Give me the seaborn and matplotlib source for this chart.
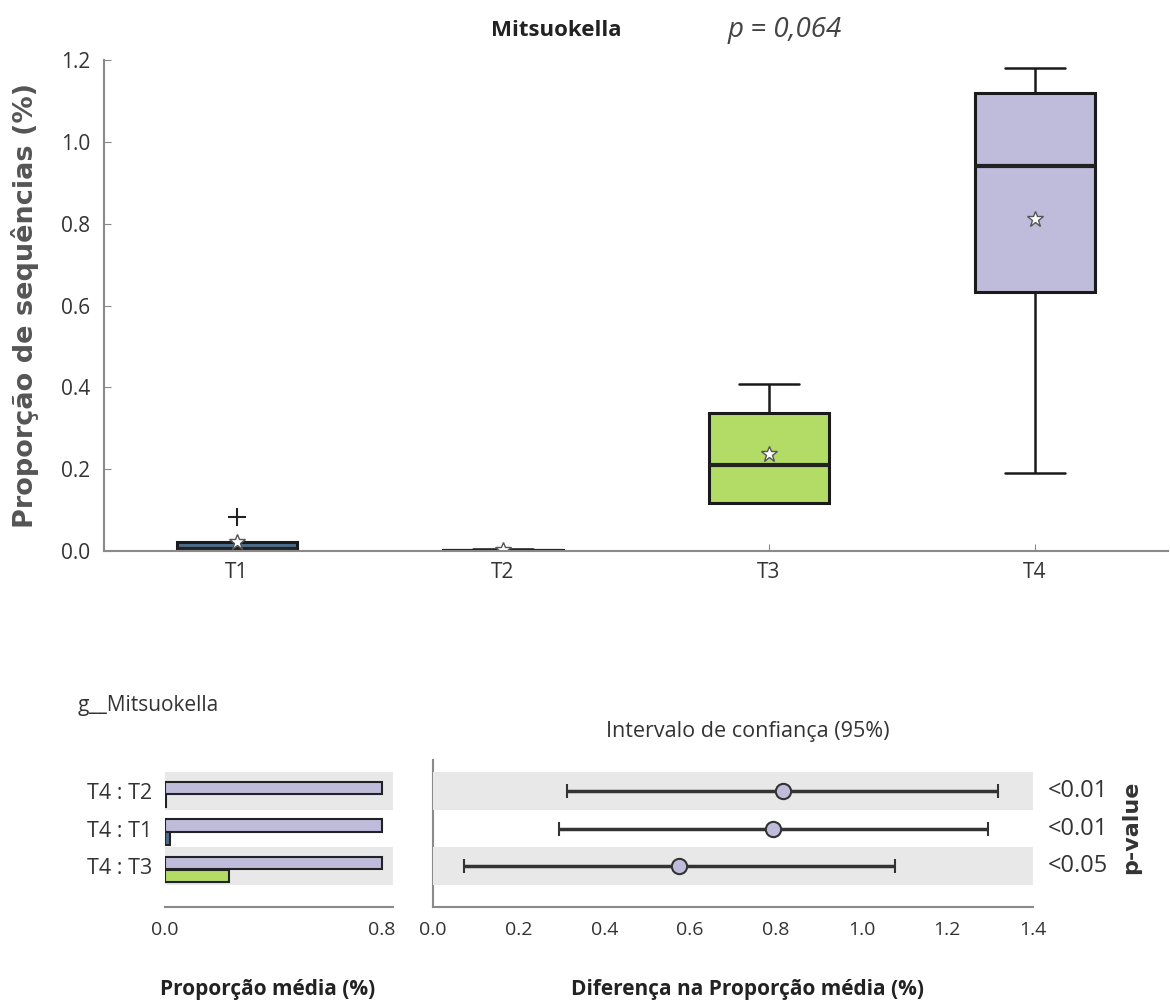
import numpy as np
import pandas as pd
import seaborn as sns
import matplotlib.pyplot as plt
import matplotlib.transforms as mtransforms

# dados (proporção de sequências, %)
grupos = ['T1', 'T2', 'T3', 'T4']
valores_t1 = [0.0, 0.0, 0.004, 0.022, 0.083]
valores_t2 = [0.0, 0.0, 0.0, 0.003, 0.006]
valores_t3 = [0.117, 0.117, 0.21, 0.337, 0.408]
valores_t4 = [0.19, 0.633, 0.94, 1.12, 1.18]
cores = ['#4d6d8c', '#e8a04f', '#b3dc66', '#bebbdb']

# comparações par a par (painel inferior)
comparacoes = ['T4 : T2', 'T4 : T1', 'T4 : T3']
outro_grupo = ['T2', 'T1', 'T3']
media_t4 = [0.80, 0.80, 0.80]
media_outro = [0.002, 0.02, 0.235]
dif_media = [0.817, 0.793, 0.575]
ic_inf = [0.313, 0.295, 0.073]
ic_sup = [1.318, 1.294, 1.077]
p_valores = ['<0.01', '<0.01', '<0.05']

df = pd.DataFrame({
    'grupo': np.repeat(grupos, 5),
    'valor': valores_t1 + valores_t2 + valores_t3 + valores_t4,
})

sns.set_style('white')
plt.rcParams['font.family'] = ['Open Sans', 'DejaVu Sans']

W, H = 1170, 1007
fig = plt.figure(figsize=(W / 100, H / 100), dpi=100)


def fx(px):
    return px / W


def fy(py):
    return 1 - py / H


cinza = '#8a8a8a'
texto = '#333333'

# ---- boxplot superior
ax = fig.add_axes([fx(104), fy(551), fx(1168 - 104), (551 - 60) / H])
sns.boxplot(data=df, x='grupo', y='valor', hue='grupo', palette=cores, legend=False,
            saturation=1, width=0.45, linewidth=2.2, linecolor='#1a1a1a', showmeans=True,
            meanprops=dict(marker='*', markerfacecolor='white', markeredgecolor='#555555',
                           markersize=12, markeredgewidth=1),
            flierprops=dict(marker='+', markersize=13, markeredgecolor='#222222',
                            markeredgewidth=1.5),
            medianprops=dict(linewidth=3, color='#222222'),
            whiskerprops=dict(linewidth=1.8), capprops=dict(linewidth=1.8),
            ax=ax)
ax.set_xlim(-0.5, 3.5)
ax.set_ylim(0, 1.2)
ax.set_yticks(np.arange(0, 1.21, 0.2))
ax.set_yticklabels([f'{v:.1f}' for v in np.arange(0, 1.21, 0.2)])
ax.set_xlabel('')
ax.set_ylabel('Proporção de sequências (%)', fontsize=19.5, fontweight='bold',
              color='#555555', family='DejaVu Sans', labelpad=16)
for s in ['top', 'right']:
    ax.spines[s].set_visible(False)
for s in ['left', 'bottom']:
    ax.spines[s].set_color(cinza)
    ax.spines[s].set_linewidth(1.5)
ax.tick_params(direction='in', length=5, color=cinza, labelsize=15, labelcolor=texto,
               left=True, bottom=True)
ax.tick_params(axis='y', pad=10)
ax.tick_params(axis='x', pad=8)

fig.text(fx(556), fy(30), 'Mitsuokella', ha='center', va='center', fontsize=16,
         fontweight='bold', color='#222222')
fig.text(fx(785), fy(30), 'p = 0,064', ha='center', va='center', fontsize=20,
         style='italic', color='#444444')

# ---- painel inferior esquerdo: proporção média
linhas = np.arange(len(comparacoes))
ax2 = fig.add_axes([fx(165), fy(907), fx(228), 147 / H])
for i in (0, 2):
    ax2.axhspan(i - 0.5, i + 0.5, color='#e8e8e8', zorder=0, lw=0)
ax2.barh(linhas - 0.08, media_t4, height=0.33, color=cores[3], edgecolor='#222222',
         linewidth=1.5, zorder=2)
ax2.barh(linhas + 0.26, media_outro, height=0.33,
         color=[cores[grupos.index(g)] for g in outro_grupo],
         edgecolor='#222222', linewidth=1.5, zorder=2)
ax2.set_xlim(0, 0.841)
ax2.set_ylim(3.09, -0.83)
ax2.set_yticks(linhas)
ax2.set_yticklabels(comparacoes)
ax2.set_xticks([0, 0.8])
ax2.set_xticklabels(['0.0', '0.8'])
for s in ['top', 'right', 'left']:
    ax2.spines[s].set_visible(False)
ax2.spines['bottom'].set_color(cinza)
ax2.spines['bottom'].set_linewidth(1.5)
ax2.tick_params(axis='y', length=0, pad=9, labelsize=15.5, labelcolor=texto)
ax2.tick_params(axis='x', direction='in', length=6, color=cinza, labelsize=14,
                labelcolor=texto, pad=10)

# ---- painel inferior direito: diferença e intervalo de confiança
ax3 = fig.add_axes([fx(433), fy(907), fx(600), 147 / H])
for i in (0, 2):
    ax3.axhspan(i - 0.5, i + 0.5, color='#e8e8e8', zorder=3, lw=0)
dif = np.array(dif_media)
xerr = [dif - np.array(ic_inf), np.array(ic_sup) - dif]
ax3.errorbar(dif, linhas, xerr=xerr, fmt='o', color='#333333', elinewidth=2.5,
             capsize=5, capthick=1.5, markersize=11, markerfacecolor=cores[3],
             markeredgecolor='#333333', markeredgewidth=1.5, zorder=5)
ax3.set_xlim(0, 1.4)
ax3.set_ylim(3.09, -0.83)
ax3.set_yticks([])
ax3.set_xticks(np.arange(0, 1.41, 0.2))
ax3.set_xticklabels([f'{v:.1f}' for v in np.arange(0, 1.41, 0.2)])
for s in ['top', 'right']:
    ax3.spines[s].set_visible(False)
for s in ['left', 'bottom']:
    ax3.spines[s].set_color(cinza)
    ax3.spines[s].set_linewidth(1.5)
ax3.tick_params(axis='x', direction='in', length=6, color=cinza, labelsize=14,
                labelcolor=texto, pad=10)

trans = mtransforms.blended_transform_factory(ax3.transAxes, ax3.transData)
for i, p in enumerate(p_valores):
    ax3.text(1.0 + 15 / 600, i, p, transform=trans, ha='left', va='center',
             fontsize=17, color=texto)

fig.text(fx(1131), fy(827), 'p-value', rotation=90, ha='center', va='center',
         fontsize=16, fontweight='bold', family='DejaVu Sans', color=texto)
fig.text(fx(78), fy(705), 'g__Mitsuokella', ha='left', va='center', fontsize=15,
         color=texto)
fig.text(fx(748), fy(732), 'Intervalo de confiança (95%)', ha='center', va='center',
         fontsize=15.5, color=texto)
fig.text(fx(748), fy(990), 'Diferença na Proporção média (%)', ha='center', va='center',
         fontsize=15, fontweight='bold', color='#222222')
fig.text(fx(268), fy(990), 'Proporção média (%)', ha='center', va='center',
         fontsize=15, fontweight='bold', color='#222222')

fig.savefig('out.png', dpi=100)
